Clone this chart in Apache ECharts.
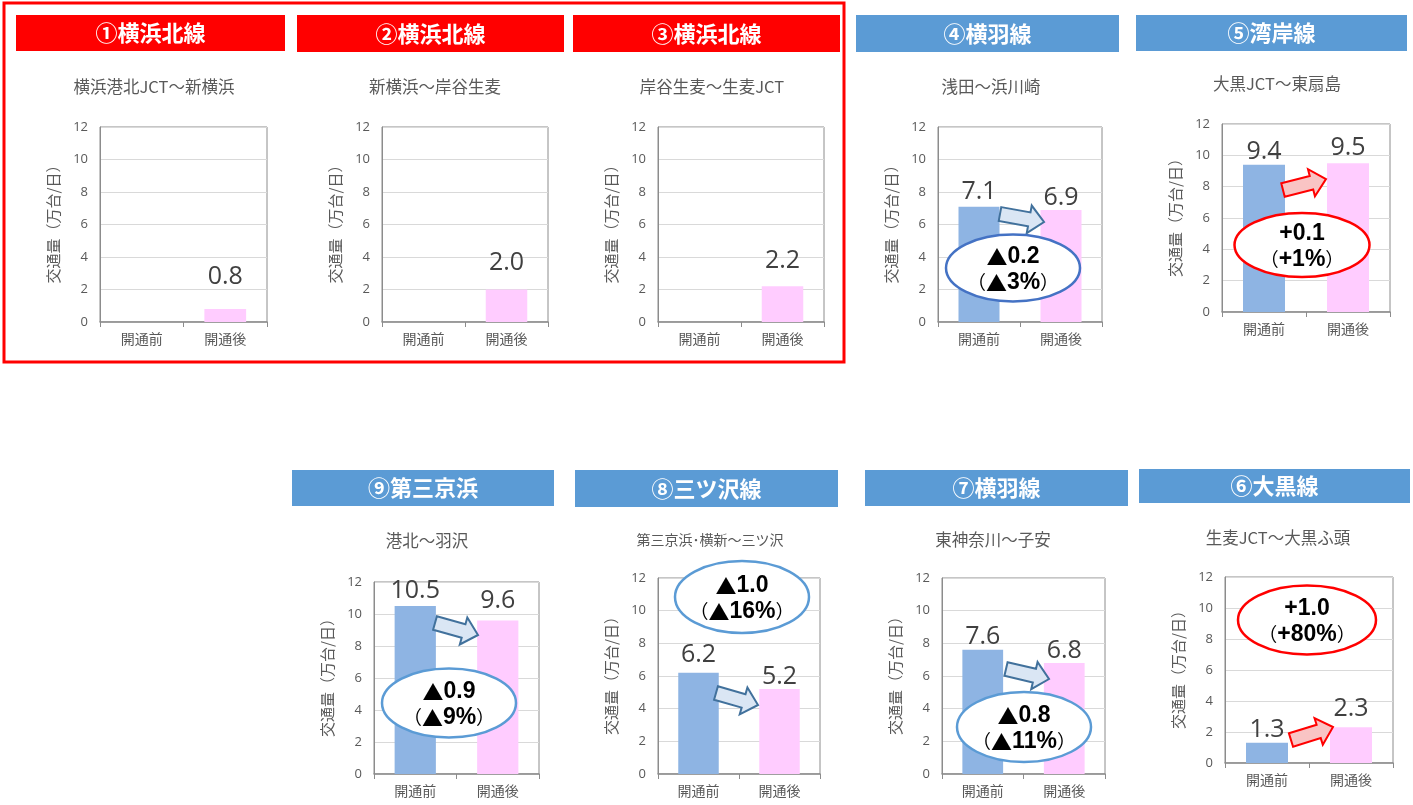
<!DOCTYPE html>
<html><head><meta charset="utf-8">
<script src="https://cdn.jsdelivr.net/npm/echarts@6/dist/echarts.min.js"></script>
<style>html,body{margin:0;padding:0;background:#fff}#c{width:1413px;height:805px}</style>
</head><body><div id="c"></div>
<script>
// ---- data ----
const categories = ['開通前', '開通後'];
const panelNames = ['①横浜北線', '②横浜北線', '③横浜北線', '④横羽線', '⑤湾岸線', '⑥大黒線', '⑦横羽線', '⑧三ツ沢線', '⑨第三京浜'];
const sections = ['横浜港北JCT～新横浜', '新横浜～岸谷生麦', '岸谷生麦～生麦JCT', '浅田～浜川崎', '大黒JCT～東扇島', '生麦JCT～大黒ふ頭', '東神奈川～子安', '第三京浜･横新～三ツ沢', '港北～羽沢'];
const beforeValues = [null, null, null, 7.1, 9.4, 1.3, 7.6, 6.2, 10.5];
const afterValues = [0.8, 2.0, 2.2, 6.9, 9.5, 2.3, 6.8, 5.2, 9.6];
const changeValues = [null, null, null, '▲0.2', '+0.1', '+1.0', '▲0.8', '▲1.0', '▲0.9'];
const changeRates = [null, null, null, '（▲3%）', '（+1%）', '（+80%）', '（▲11%）', '（▲16%）', '（▲9%）'];
const yTicks = [0, 2, 4, 6, 8, 10, 12];
const yAxisTitle = '交通量（万台/日）';

// ---- layout (positions / styles only) ----
const RED = '#FF0000', BLUE = '#5B9BD5';
const layout = [
  {hdr:[16,15,269,36], hc:RED, sub:[154,87], subFs:16.5, grid:[100,127,167,195], ld:[0,20]},
  {hdr:[297,15,267,37], hc:RED, sub:[435,87], subFs:16.5, grid:[382,127,166,195], ld:[0,14]},
  {hdr:[573,15,267,37], hc:RED, sub:[712,87], subFs:16.5, grid:[658,127,166,195], ld:[0,13]},
  {hdr:[856,15,263,37], hc:BLUE, sub:[991,87], subFs:16.5, grid:[938,127,164,195], ld:[2,0],
    ell:[1013,268,67,33.5,'#4472C4'], arr:[1000,214,1044,222,'b']},
  {hdr:[1136,15,271,36], hc:BLUE, sub:[1277,84], subFs:16.5, grid:[1222,124,168,188], ld:[0,3],
    ell:[1302,245,67.5,32,RED], arr:[1283,190,1326,179,'r']},
  {hdr:[1139,469,271,34], hc:BLUE, sub:[1278,538], subFs:16.5, grid:[1225,577,168,186], ld:[0,6],
    ell:[1307,620,69,34.5,RED], arr:[1291,740,1333,727,'r']},
  {hdr:[865,470,263,36], hc:BLUE, sub:[993,540], subFs:16.5, grid:[942,578,163,196], ld:[0,0],
    ell:[1024,727,67,35,BLUE], arr:[1006,669,1049,679,'b']},
  {hdr:[575,470,263,37], hc:BLUE, sub:[710,540], subFs:14, grid:[658,578,162,196], ld:[5,0],
    ell:[742,597,67,36,BLUE], arr:[716,693,758,705,'b']},
  {hdr:[292,470,262,36], hc:BLUE, sub:[427,541], subFs:16.5, grid:[374,582,165,192], ld:[3,7],
    ell:[449,703,67,34.5,BLUE], arr:[435,623,478,635,'b']}
];
const C_BEFORE = '#8EB4E3', C_AFTER = '#FFCCFF';
const FONT = '"Noto Sans CJK JP","Noto Sans",sans-serif';
const NUMFONT = '"Open Sans","Noto Sans",sans-serif';
const BOLDNUM = '"Liberation Sans","Noto Sans CJK JP",sans-serif';

function arrowPts(x1,y1,x2,y2,sw,hw,hl){
  const dx=x2-x1, dy=y2-y1, L=Math.hypot(dx,dy), ux=dx/L, uy=dy/L, px=-uy, py=ux, b=L-hl;
  const P=(a,o)=>[x1+ux*a+px*o, y1+uy*a+py*o];
  return [P(0,-sw),P(b,-sw),P(b,-hw),P(L,0),P(b,hw),P(b,sw),P(0,sw)];
}
function richify(s){
  return s.split(/(▲|（|）)/).filter(x=>x!=='').map(x=>x==='▲'?'{t|▲}':(x==='（'||x==='）')?'{p|'+x+'}':'{n|'+x+'}').join('');
}
const richStyles = {
  t:{fontFamily:'"Noto Sans CJK JP"', fontWeight:'bold', fontSize:21, fill:'#000', color:'#000'},
  p:{fontFamily:'"Noto Sans CJK JP"', fontWeight:'normal', fontSize:19, fill:'#000', color:'#000'},
  n:{fontFamily:BOLDNUM, fontWeight:'bold', fontSize:23, fill:'#000', color:'#000'}
};

const grids=[], xAxes=[], yAxes=[], series=[], graphics=[];
graphics.push({type:'rect', z:100, shape:{x:4,y:3,width:840,height:359}, style:{fill:'none', stroke:RED, lineWidth:3}});

layout.forEach((L,i)=>{
  const [gl,gt,gw,gh]=L.grid;
  grids.push({left:gl, top:gt, width:gw, height:gh, show:true, borderColor:'#8C8C8C', borderWidth:1, containLabel:false});
  xAxes.push({type:'category', gridIndex:i, data:categories,
    axisLine:{lineStyle:{color:'#8C8C8C', width:1.5}},
    axisTick:{show:true, length:5, lineStyle:{color:'#8C8C8C'}},
    axisLabel:{color:'#595959', fontSize:14, margin:10, fontFamily:FONT}});
  yAxes.push({type:'value', gridIndex:i, min:yTicks[0], max:yTicks[yTicks.length-1], interval:2,
    name:yAxisTitle, nameLocation:'middle', nameRotate:90, nameGap:39,
    nameTextStyle:{color:'#595959', fontSize:15, fontFamily:FONT, padding:[0,0,0,8]},
    axisLine:{show:true, lineStyle:{color:'#8C8C8C'}}, axisTick:{show:false},
    axisLabel:{color:'#595959', fontSize:13, margin:12, fontFamily:NUMFONT},
    splitLine:{lineStyle:{color:'#D9D9D9'}}});
  const vals=[beforeValues[i], afterValues[i]];
  series.push({type:'bar', xAxisIndex:i, yAxisIndex:i, barWidth:'50%', animation:false,
    data: vals.map((v,k)=>({value:v, itemStyle:{color:k===0?C_BEFORE:C_AFTER},
      label:{show:v!=null, position:'top', distance:L.ld[k], fontSize:25, color:'#404040', fontFamily:NUMFONT,
        formatter:p=>p.value==null?'':Number(p.value).toFixed(1)}}))});
  // header
  const [hx,hy,hw,hh]=L.hdr;
  graphics.push({type:'rect', z:10, shape:{x:hx,y:hy,width:hw,height:hh}, style:{fill:L.hc}});
  graphics.push({type:'text', z:11, x:hx+hw/2, y:hy+hh/2, style:{text:panelNames[i], fill:'#fff', align:'center', verticalAlign:'middle',
    font:'bold 22px '+FONT}});
  // subtitle
  graphics.push({type:'text', z:11, x:L.sub[0], y:L.sub[1], style:{text:sections[i], fill:'#595959', align:'center', verticalAlign:'middle',
    font:L.subFs+'px '+FONT}});
  if(L.arr){
    const [x1,y1,x2,y2,t]=L.arr;
    graphics.push({type:'polygon', z:100, shape:{points:arrowPts(x1,y1,x2,y2,7,14,15)},
      style:{fill:t==='r'?'#F9C4C4':'#DAE6F4', stroke:t==='r'?RED:'#41719C', lineWidth:2, lineJoin:'miter'}});
  }
  if(L.ell){
    const [cx,cy,rx,ry,col]=L.ell;
    graphics.push({type:'ellipse', z:100, shape:{cx,cy,rx,ry}, style:{fill:'#fff', stroke:col, lineWidth:2.5}});
    graphics.push({type:'text', z:101, x:cx, y:cy-11, style:{text:richify(changeValues[i]), rich:richStyles, align:'center', verticalAlign:'middle'}});
    graphics.push({type:'text', z:101, x:cx, y:cy+15, style:{text:richify(changeRates[i]), rich:richStyles, align:'center', verticalAlign:'middle'}});
  }
});

const chart = echarts.init(document.getElementById('c'), null, {renderer:'canvas'});
chart.setOption({animation:false, backgroundColor:'#fff', grid:grids, xAxis:xAxes, yAxis:yAxes, series, graphic:graphics});
</script></body></html>
